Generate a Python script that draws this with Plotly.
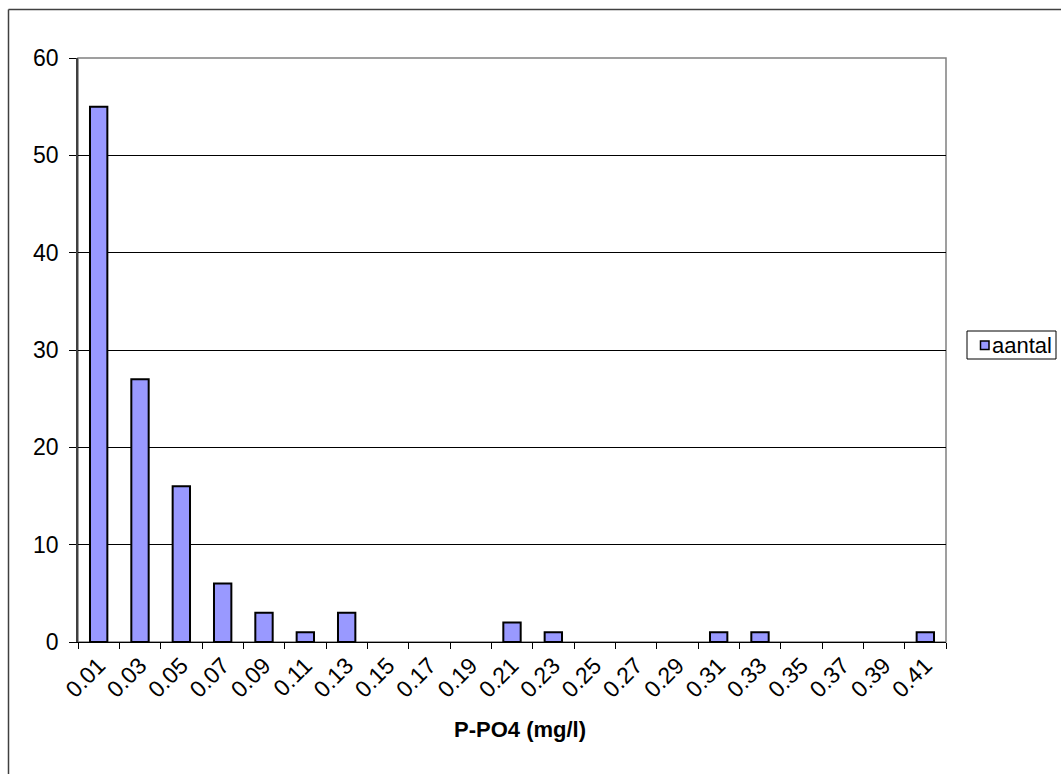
import plotly.graph_objects as go

categories = ["0.01", "0.03", "0.05", "0.07", "0.09", "0.11", "0.13", "0.15", "0.17", "0.19",
              "0.21", "0.23", "0.25", "0.27", "0.29", "0.31", "0.33", "0.35", "0.37", "0.39", "0.41"]
aantal = [55, 27, 16, 6, 3, 1, 3, 0, 0, 0, 2, 1, 0, 0, 0, 1, 1, 0, 0, 0, 1]
y_ticks = [0, 10, 20, 30, 40, 50, 60]
x_title = "P-PO4 (mg/l)"
series_name = "aantal"

FONT = "Liberation Sans, Arial, sans-serif"
FS = 22
TFS = 23
BAR_COLOR = "#9999FF"

fig = go.Figure()
fig.add_trace(go.Bar(
    x=categories, y=aantal, name=series_name,
    marker=dict(color=BAR_COLOR,
                line=dict(color="black", width=[2 if v > 0 else 0 for v in aantal])),
    showlegend=False,
))

W, H = 1061, 774
L, R, T, B = 78, 946, 58, 642
pw, ph = R - L, B - T

def px(x):
    return (x - L) / pw

def py(y):
    return (B - y) / ph

shapes = [
    dict(type="rect", xref="paper", yref="paper", x0=0, x1=1, y0=0, y1=1,
         line=dict(color="#808080", width=1.5), layer="below"),
    dict(type="line", xref="paper", yref="paper", x0=px(8.5), x1=px(1100), y0=py(9.5), y1=py(9.5),
         line=dict(color="#404040", width=1.5)),
    dict(type="line", xref="paper", yref="paper", x0=px(8.5), x1=px(8.5), y0=py(9.5), y1=py(800),
         line=dict(color="#404040", width=1.5)),
    dict(type="rect", xref="paper", yref="paper", x0=px(967), x1=px(1056), y0=py(359), y1=py(331),
         line=dict(color="black", width=1), fillcolor="white"),
    dict(type="rect", xref="paper", yref="paper", x0=px(980.5), x1=px(989), y0=py(349.5), y1=py(341),
         line=dict(color="black", width=1.5), fillcolor=BAR_COLOR),
]

annotations = [
    dict(text=series_name, xref="paper", yref="paper", x=px(990), y=py(345.5),
         xanchor="left", yanchor="middle", showarrow=False,
         font=dict(family=FONT, size=FS, color="black")),
    dict(text="<b>" + x_title + "</b>", xref="paper", yref="paper", x=px(520), y=py(729),
         xanchor="center", yanchor="middle", showarrow=False,
         font=dict(family=FONT, size=FS, color="black")),
]

fig.update_layout(
    width=W, height=H,
    margin=dict(l=L, r=W - R, t=T, b=H - B, pad=0),
    paper_bgcolor="white", plot_bgcolor="white",
    bargap=0.58,
    font=dict(family=FONT, size=FS, color="black"),
    shapes=shapes, annotations=annotations,
    showlegend=False,
)
fig.update_xaxes(
    type="category", tickangle=-45, tickson="boundaries",
    ticks="outside", ticklen=6, tickcolor="black", tickwidth=1,
    showline=True, linecolor="black", linewidth=1,
    showgrid=False, tickfont=dict(family=FONT, size=TFS, color="black"),
)
fig.update_yaxes(
    range=[0, 60], tickvals=y_ticks,
    ticks="outside", ticklen=7, tickcolor="black", tickwidth=1,
    showline=True, linecolor="#404040", linewidth=1.5,
    showgrid=True, gridcolor="black", gridwidth=1, zeroline=False,
    ticklabelstandoff=6,
    tickfont=dict(family=FONT, size=TFS, color="black"),
)

fig.write_html("out.html")
